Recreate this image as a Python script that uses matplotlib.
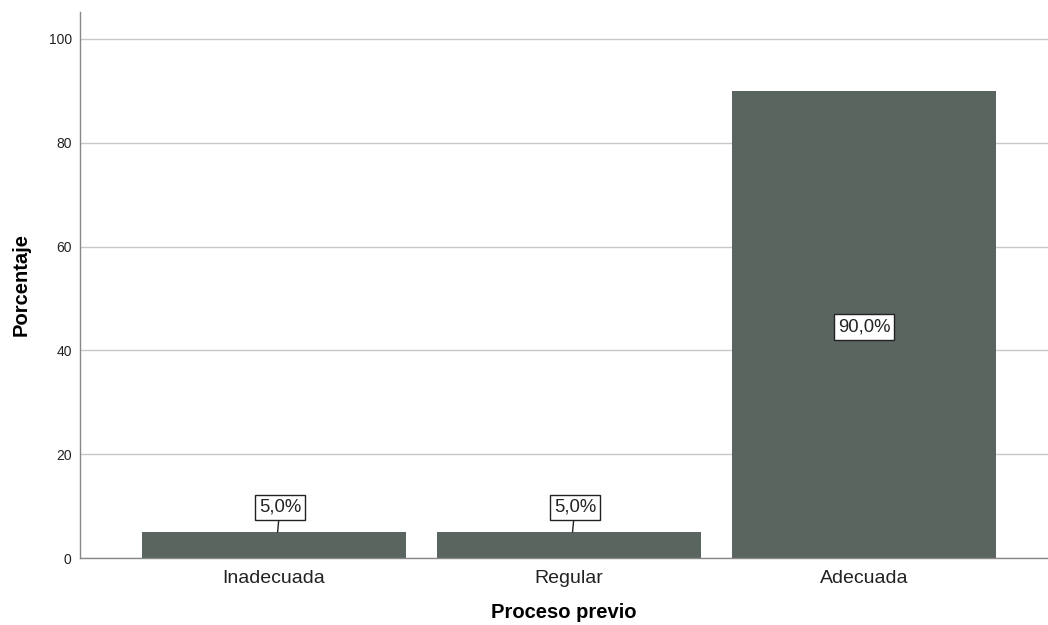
import matplotlib
matplotlib.use("Agg")
import matplotlib.pyplot as plt

categories = ["Inadecuada", "Regular", "Adecuada"]
values = [5.0, 5.0, 90.0]
labels = ["5,0%", "5,0%", "90,0%"]
yticks = [0, 20, 40, 60, 80, 100]

plt.rcParams['font.family'] = ['Liberation Sans', 'DejaVu Sans']

W, H = 1048, 625
fig = plt.figure(figsize=(W / 100, H / 100), dpi=100)
ax = fig.add_axes([80 / W, (H - 558) / H, (W - 80) / W, (558 - 12) / H])

x = list(range(len(categories)))
ax.bar(x, values, width=0.895, color="#5b6560", zorder=2)
ax.set_xlim(-0.658, 2.624)
ax.set_ylim(0, 105.2)
ax.set_yticks(yticks)
ax.set_yticklabels([str(t) for t in yticks], fontsize=10, color="#222222")
ax.set_xticks(x)
ax.set_xticklabels(categories, fontsize=14, color="#222222")
ax.tick_params(axis="x", length=0, pad=8.5)
ax.tick_params(axis="y", length=0, pad=6)
ax.yaxis.grid(True, color="#c8c8c8", linewidth=1, zorder=0)
ax.set_axisbelow(True)
for s in ["top", "right"]:
    ax.spines[s].set_visible(False)
for s in ["left", "bottom"]:
    ax.spines[s].set_color("#888888")
    ax.spines[s].set_linewidth(1)

ax.set_xlabel("Proceso previo", fontsize=14.5, fontweight="bold", labelpad=12)
ax.set_ylabel("Porcentaje", fontsize=14.5, fontweight="bold", labelpad=13)

box = dict(boxstyle="square,pad=0.22", fc="white", ec="#222222", lw=1)
for xi, v, lab in zip(x, values, labels):
    if v < 20:
        ax.annotate(lab, xy=(xi + 0.012, v), xytext=(xi + 0.02, v + 4.8),
                    ha="center", va="center", fontsize=13.3, color="#222222",
                    bbox=box, zorder=4,
                    arrowprops=dict(arrowstyle="-", color="#222222", lw=1,
                                    shrinkA=0, shrinkB=0))
    else:
        ax.text(xi, v / 2 - 0.5, lab, ha="center", va="center", fontsize=13.3,
                color="#222222", bbox=box, zorder=4)

fig.savefig("out.png", dpi=100)
